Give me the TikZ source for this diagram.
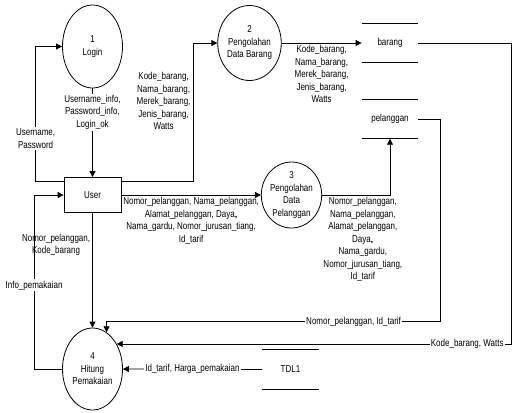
\documentclass[tikz,border=0pt]{standalone}
\usepackage{fontspec}
\setmainfont{Liberation Sans}[FakeStretch=0.8]
\usetikzlibrary{arrows.meta, positioning, shapes.geometric}

\begin{document}
\begin{tikzpicture}[
    x=0.75pt, y=-0.75pt,
    line width=0.6pt,
    >={Triangle[length=4.5pt, width=4.5pt]},
    every node/.style={font=\fontsize{7.5}{9.4}\selectfont, align=center},
    proc/.style={draw, ellipse, inner sep=0pt},
    entity/.style={draw, minimum width=42.75pt, minimum height=26.25pt, inner sep=0pt},
    store/.style={minimum width=42pt, minimum height=29pt, inner sep=0pt},
    arr/.style={->},
    flow/.style={inner sep=1.5pt},
    onflow/.style={fill=white, inner sep=1pt},
]
\useasboundingbox (0,0) rectangle (521,412);

\node[proc, minimum width=45pt, minimum height=62.25pt] (login) at (92.5, 46.5) {1\\Login};
\node[proc, minimum width=41.25pt, minimum height=56.25pt] (pb) at (249.5, 43) {2\\Pengolahan\\Data Barang};
\node[proc, minimum width=42.75pt, minimum height=48.75pt] (pc) at (291.5, 195) {3\\Pengolahan\\Data\\Pelanggan};
\node[proc, minimum width=45pt, minimum height=61.5pt] (pd) at (92.5, 369) {4\\Hitung\\Pemakaian};
\node[entity] (user) at (92.5, 195) {User};
\node[store] (barang) at (390, 43) {barang};
\node[store] (pelanggan) at (390, 119) {pelanggan};
\node[store] (tdl) at (290.5, 369.5) {TDL1};

% data stores
\draw (barang.north west) -- (barang.north east) (barang.south west) -- (barang.south east);
\draw (pelanggan.north west) -- (pelanggan.north east) (pelanggan.south west) -- (pelanggan.south east);
\draw (tdl.north west) -- (tdl.north east) (tdl.south west) -- (tdl.south east);

% flows
\draw[arr] ([yshift=10pt]user.west) -- ++(-28,0) |- node[pos=0.16, onflow] {Username,\\Password} (login.west);
\draw[arr] (login.south) -- node[pos=0.27, onflow] {Username\_info,\\Password\_info,\\Login\_ok} (user.north);
\draw[arr] ([yshift=10pt]user.east) -- ++(71.5,0) |- node[pos=0.29, left, flow] {Kode\_barang,\\Nama\_barang,\\Merek\_barang,\\Jenis\_barang,\\Watts} (pb.west);
\draw[arr] (user.east) -- node[below, flow] {Nomor\_pelanggan, Nama\_pelanggan,\\Alamat\_pelanggan, Daya,,\\Nama\_gardu, Nomor\_jurusan\_tiang,\\Id\_tarif} (pc.west);
\draw[arr] (user.south) -- node[pos=0.28, left, flow] {Nomor\_pelanggan,\\Kode\_barang} (pd.north);
\draw[arr] (pd.west) -- ++(-28,0) |- node[pos=0.24, onflow] {Info\_pemakaian} (user.west);
\draw[arr] (pb.east) -- node[below, flow] {Kode\_barang,\\Nama\_barang,\\Merek\_barang,\\Jenis\_barang,\\Watts} (barang.west);
\draw[arr] (pc.east) -| node[pos=0.3, below, flow] {Nomor\_pelanggan,\\Nama\_pelanggan,\\Alamat\_pelanggan,\\Daya,,\\Nama\_gardu,\\Nomor\_jurusan\_tiang,\\Id\_tarif} (pelanggan.south);
\draw[arr] (pelanggan.east) -- ++(22,0) |- node[pos=0.63, onflow] {Nomor\_pelanggan, Id\_tarif} ([yshift=8pt]pd.69) -- (pd.69);
\draw[arr] (barang.east) -- ++(93,0) |- node[pos=0.556, onflow] {Kode\_barang, Watts} (pd.46);
\draw[arr] (tdl.west) -- node[onflow] {Id\_tarif, Harga\_pemakaian} (pd.east);
\end{tikzpicture}
\end{document}
